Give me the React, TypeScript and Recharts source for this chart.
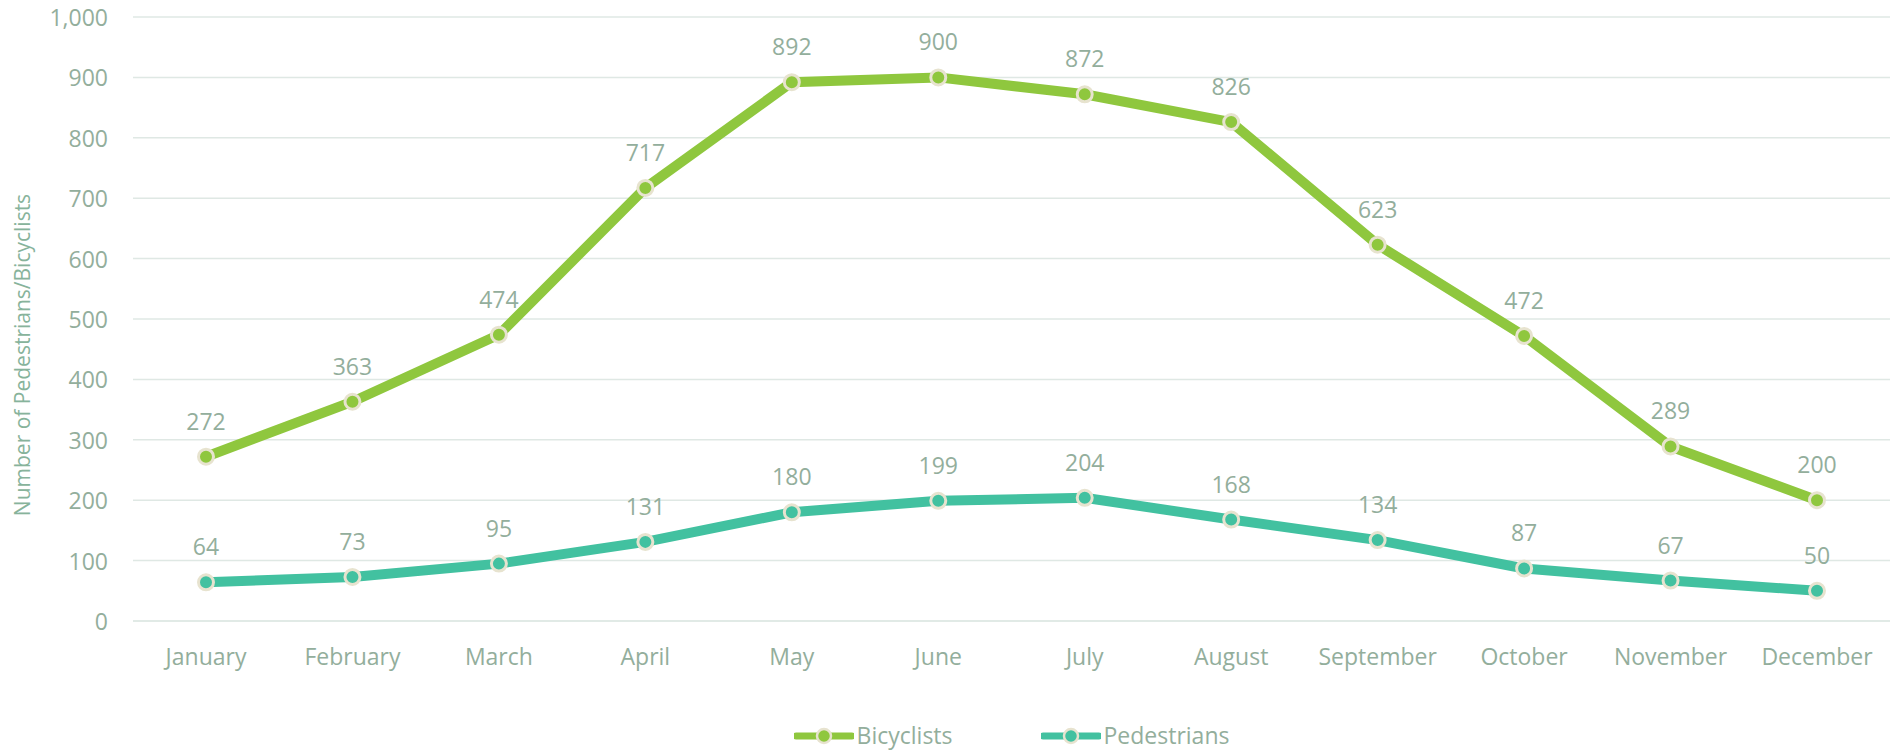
import React from 'react';
import {
  CartesianGrid,
  Legend,
  LabelList,
  Line,
  LineChart,
  XAxis,
  YAxis,
} from 'recharts';

const months = [
  'January', 'February', 'March', 'April', 'May', 'June',
  'July', 'August', 'September', 'October', 'November', 'December',
];
const bicyclists = [272, 363, 474, 717, 892, 900, 872, 826, 623, 472, 289, 200];
const pedestrians = [64, 73, 95, 131, 180, 199, 204, 168, 134, 87, 67, 50];
const yTicks = [0, 100, 200, 300, 400, 500, 600, 700, 800, 900, 1000];

const data = months.map((name, i) => ({
  name,
  Bicyclists: bicyclists[i],
  Pedestrians: pedestrians[i],
}));

const FONT = '"Open Sans", sans-serif';
const TEXT = '#93ae9c';
const BIKE = '#8fc73e';
const PED = '#42c1a0';
const RIM = '#e7e3cf';

const XTick = (props: any) => {
  const { x, y, payload } = props;
  return (
    <text x={x} y={y + 27} textAnchor="middle" dominantBaseline="central"
      fill={TEXT} fontSize={23} fontFamily={FONT}>
      {payload.value}
    </text>
  );
};

const YTick = (props: any) => {
  const { y, payload } = props;
  return (
    <text x={108} y={y} textAnchor="end" dominantBaseline="central"
      fill={TEXT} fontSize={23} fontFamily={FONT}>
      {payload.value.toLocaleString('en-US')}
    </text>
  );
};

const ValueLabel = (props: any) => {
  const { x, y, value } = props;
  return (
    <text x={x} y={y - 36} textAnchor="middle" dominantBaseline="central"
      fill={TEXT} fontSize={23} fontFamily={FONT}>
      {value}
    </text>
  );
};

const LegendIcon = ({ color }: { color: string }) => (
  <svg width={60} height={20} style={{ display: 'block' }}>
    <line x1={2} y1={10} x2={58} y2={10} stroke={color} strokeWidth={7} strokeLinecap="round" />
    <circle cx={30} cy={10} r={7} fill={color} stroke={RIM} strokeWidth={2.5} />
  </svg>
);

const renderLegend = () => (
  <div style={{
    display: 'flex', justifyContent: 'center', alignItems: 'center',
    height: 28, paddingLeft: 133, paddingRight: 2, boxSizing: 'border-box',
    fontFamily: FONT, fontSize: 23, color: TEXT,
  }}>
    {[['Bicyclists', BIKE], ['Pedestrians', PED]].map(([label, color], i) => (
      <div key={label} style={{ display: 'flex', alignItems: 'center', marginLeft: i ? 88 : 0 }}>
        <LegendIcon color={color} />
        <span style={{ marginLeft: 3, lineHeight: 1.2 }}>{label}</span>
      </div>
    ))}
  </div>
);

const App = () => (
  <div style={{
    position: 'fixed', left: 0, top: 0, width: 1892, height: 752,
    overflow: 'hidden', background: '#fff',
  }}>
    <LineChart width={1892} height={752} data={data}
      margin={{ top: 17, right: 2, bottom: 0, left: 0 }}>
      <CartesianGrid vertical={false} stroke="#dfe8e4" strokeWidth={1.5} />
      <XAxis dataKey="name" axisLine={{ stroke: '#dfe8e4', strokeWidth: 1.5 }} tickLine={false}
        height={103} tick={<XTick />} interval={0} padding={{ left: 73, right: 73 }} />
      <YAxis width={133} domain={[0, 1000]} ticks={yTicks} axisLine={false} tickLine={false}
        tick={<YTick />}
        label={{
          value: 'Number of Pedestrians/Bicyclists', angle: -90, position: 'insideLeft',
          dx: 18, dy: 36, fill: '#87b39b', fontSize: 21, fontFamily: FONT,
          style: { textAnchor: 'middle' },
        }} />
      <Legend verticalAlign="bottom" height={28} content={renderLegend}
        wrapperStyle={{ position: 'absolute', top: 722, left: 0, width: 1892, height: 28 }} />
      <Line type="linear" dataKey="Bicyclists" stroke={BIKE} strokeWidth={10}
        dot={{ r: 7.5, fill: BIKE, stroke: RIM, strokeWidth: 3 }}
        activeDot={false} isAnimationActive={false}>
        <LabelList dataKey="Bicyclists" content={<ValueLabel />} />
      </Line>
      <Line type="linear" dataKey="Pedestrians" stroke={PED} strokeWidth={10}
        dot={{ r: 7.5, fill: PED, stroke: RIM, strokeWidth: 3 }}
        activeDot={false} isAnimationActive={false}>
        <LabelList dataKey="Pedestrians" content={<ValueLabel />} />
      </Line>
    </LineChart>
  </div>
);

export default App;
